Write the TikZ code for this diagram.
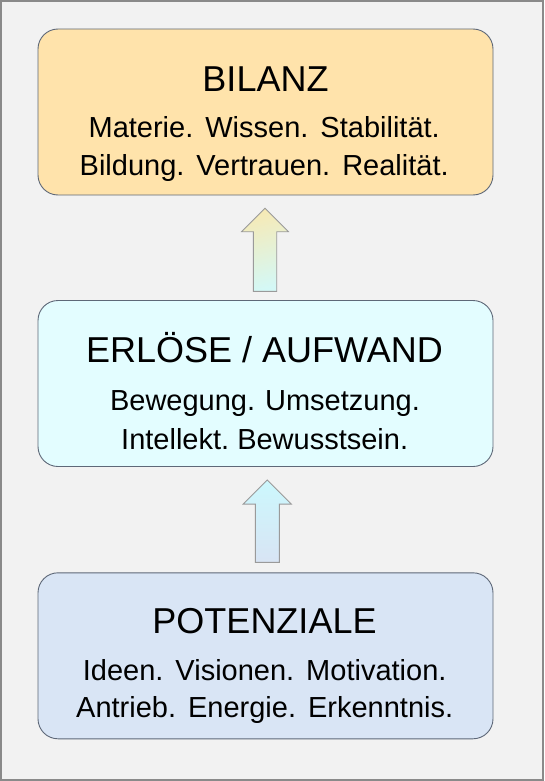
\documentclass[tikz,border=0pt]{standalone}
\usepackage{fontspec}
\setmainfont{Liberation Sans}
\usetikzlibrary{calc}
\definecolor{bg}{HTML}{F2F2F2}
\definecolor{frame}{HTML}{8A8A8A}
\definecolor{boxline}{HTML}{5E6878}
\definecolor{fillA}{HTML}{FFE3AB}
\definecolor{fillB}{HTML}{E3FDFF}
\definecolor{fillC}{HTML}{D9E5F5}
\definecolor{arrline}{HTML}{9A9A9A}
\definecolor{arrAtop}{HTML}{F6EAB6}
\definecolor{arrAbot}{HTML}{D4F8F6}
\definecolor{arrBtop}{HTML}{CCF8FD}
\definecolor{arrBbot}{HTML}{D8E4F4}
\newcommand{\wgap}{\hspace{12pt}}
\tikzset{
  stagebox/.style={draw=boxline, line width=0.9pt, rounded corners=20pt,
    minimum width=455pt, minimum height=166pt, inner sep=0pt},
  titletext/.style={anchor=base, inner sep=0pt, font=\fontsize{36}{40}\selectfont},
  bodytext/.style={anchor=base, inner sep=0pt, font=\fontsize{29}{32}\selectfont},
}
\begin{document}
\begin{tikzpicture}[x=1pt,y=-1pt]
\useasboundingbox (0,0) rectangle (544,781);
\fill[bg] (0,0) rectangle (544,781);
\draw[frame, line width=2pt] (1,1) rectangle (543,780);

% boxes
\node[stagebox, fill=fillA] (bilanz) at (265.5,112) {};
\node[stagebox, fill=fillB] (erloese) at (265.5,383.5) {};
\node[stagebox, fill=fillC] (potenz) at (265.5,655.8) {};

% texts
\node[titletext] (t1) at (265.5,91.7) {BILANZ};
\node[bodytext] (t1a) at (264.2,137.3) {Materie.\wgap Wissen.\wgap Stabilität.};
\node[bodytext] (t1b) at (264.2,175) {Bildung.\wgap Vertrauen.\wgap Realität.};

\node[titletext] (t2) at (264.5,362.7) {ERLÖSE / AUFWAND};
\node[bodytext] (t2a) at (265,410.7) {Bewegung.\hspace{10pt}Umsetzung.};
\node[bodytext] (t2b) at (264.7,449.3) {Intellekt.\ Bewusstsein.};

\node[titletext] (t3) at (264.5,633.3) {POTENZIALE};
\node[bodytext] (t3a) at (264.7,680.7) {Ideen.\wgap Visionen.\wgap Motivation.};
\node[bodytext] (t3b) at (264.7,717.3) {Antrieb.\wgap Energie.\wgap Erkenntnis.};

% block arrows between the boxes
\shade[draw=arrline, line width=0.9pt, shading=axis, top color=arrAtop, bottom color=arrAbot, shading angle=15]
  ($(erloese.north)+(-0.5,-8.7)$) coordinate (a1s)
  -- ++(-11.7,0) -- ++(0,-59.6) -- ++(-11.7,0) -- ++(23.4,-23.4) -- ++(23.4,23.4)
  -- ++(-11.7,0) -- ++(0,59.6) -- cycle;

\shade[draw=arrline, line width=0.9pt, shading=axis, top color=arrBtop, bottom color=arrBbot]
  ($(potenz.north)+(1.8,-10)$) coordinate (a2s)
  -- ++(-12,0) -- ++(0,-58.3) -- ++(-12,0) -- ++(24,-24) -- ++(24,24)
  -- ++(-12,0) -- ++(0,58.3) -- cycle;
\end{tikzpicture}
\end{document}
